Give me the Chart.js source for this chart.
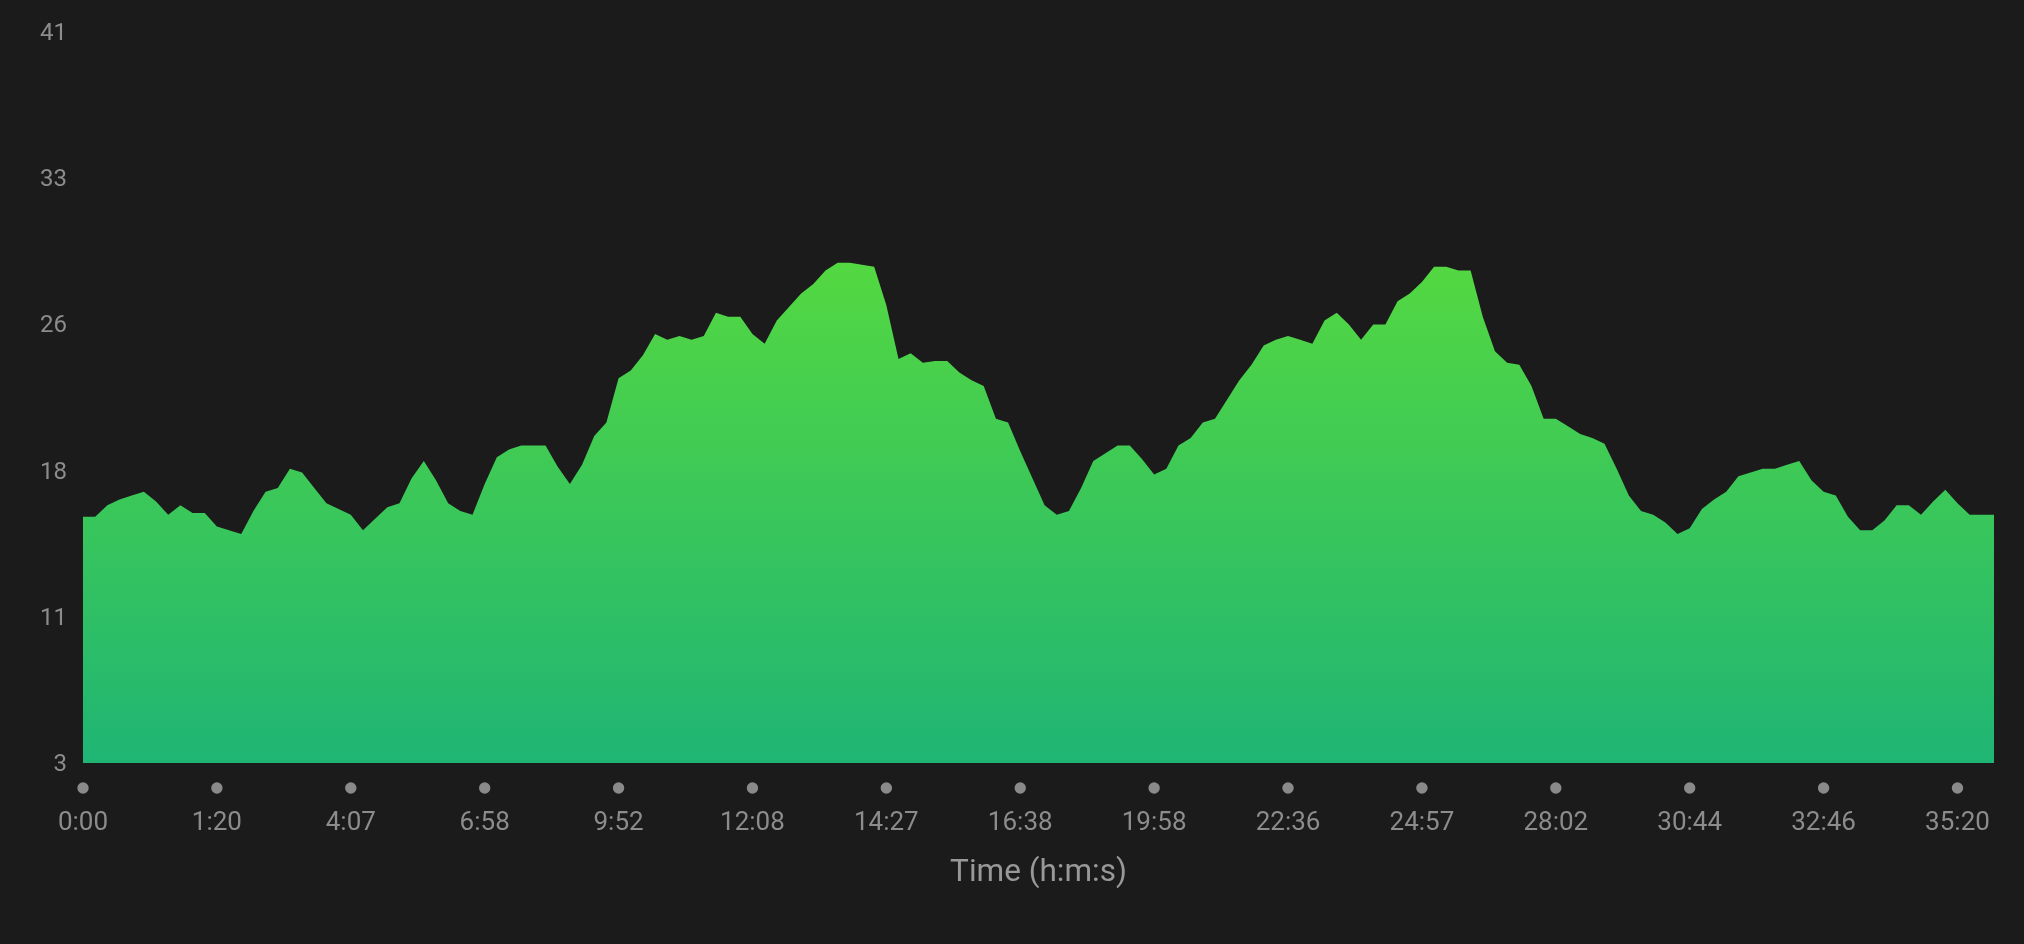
<!DOCTYPE html>
<html>
<head>
<meta charset="utf-8">
<script src="https://cdn.jsdelivr.net/npm/chart.js@4/dist/chart.umd.min.js"></script>
<style>
  html, body { margin: 0; padding: 0; background: #1b1b1b; }
  #wrap { width: 2024px; height: 944px; }
</style>
</head>
<body>
<div id="wrap"><canvas id="c" width="2024" height="944"></canvas></div>
<script>
// Tick labels shown on the time axis (one every 11 samples)
const timeTickLabels = ["0:00", "1:20", "4:07", "6:58", "9:52", "12:08", "14:27", "16:38",
  "19:58", "22:36", "24:57", "28:02", "30:44", "32:46", "35:20"];
const samplesPerTick = 11;

// Series values (158 samples)
const values = [
  15.8, 15.8, 16.4, 16.7, 16.9, 17.1, 16.6, 15.9, 16.4, 16.0,
  16.0, 15.3, 15.1, 14.9, 16.1, 17.1, 17.3, 18.3, 18.1, 17.3,
  16.5, 16.2, 15.9, 15.1, 15.7, 16.3, 16.5, 17.8, 18.7, 17.7,
  16.5, 16.1, 15.9, 17.5, 18.9, 19.3, 19.5, 19.5, 19.5, 18.4,
  17.5, 18.5, 20.0, 20.7, 23.0, 23.4, 24.2, 25.3, 25.0, 25.2,
  25.0, 25.2, 26.4, 26.2, 26.2, 25.3, 24.8, 26.0, 26.7, 27.4,
  27.9, 28.6, 29.0, 29.0, 28.9, 28.8, 26.8, 24.0, 24.3, 23.8,
  23.9, 23.9, 23.3, 22.9, 22.6, 20.9, 20.7, 19.2, 17.8, 16.4,
  15.9, 16.1, 17.3, 18.7, 19.1, 19.5, 19.5, 18.8, 18.0, 18.3,
  19.5, 19.9, 20.7, 20.9, 21.9, 22.9, 23.7, 24.7, 25.0, 25.2,
  25.0, 24.8, 26.0, 26.4, 25.8, 25.0, 25.8, 25.8, 27.0, 27.4,
  28.0, 28.8, 28.8, 28.6, 28.6, 26.2, 24.4, 23.8, 23.7, 22.6,
  20.9, 20.9, 20.5, 20.1, 19.9, 19.6, 18.3, 16.9, 16.1, 15.9,
  15.5, 14.9, 15.2, 16.2, 16.7, 17.1, 17.9, 18.1, 18.3, 18.3,
  18.5, 18.7, 17.7, 17.1, 16.9, 15.8, 15.1, 15.1, 15.6, 16.4,
  16.4, 15.9, 16.6, 17.2, 16.5, 15.9, 15.9, 15.9
];

// Y axis tick values
const yTickValues = [3, 10.6, 18.2, 25.8, 33.4, 41];

// Build the category labels from the tick labels
const categories = values.map((v, i) =>
  (i % samplesPerTick === 0 && timeTickLabels[i / samplesPerTick] !== undefined)
    ? timeTickLabels[i / samplesPerTick] : '');

const tickColor = '#8c8c8c';

const tickDots = {
  id: 'tickDots',
  afterDraw(chart) {
    const xs = chart.scales.x;
    const ctx = chart.ctx;
    ctx.save();
    ctx.fillStyle = '#8a8a8a';
    xs.ticks.forEach((t, i) => {
      if (!categories[t.value]) return;
      const px = xs.getPixelForTick(i);
      ctx.beginPath();
      ctx.arc(px, xs.top + 25, 5.7, 0, Math.PI * 2);
      ctx.fill();
    });
    ctx.restore();
  }
};

new Chart(document.getElementById('c'), {
  type: 'line',
  data: {
    labels: categories,
    datasets: [{
      data: values,
      fill: 'start',
      borderWidth: 0,
      pointRadius: 0,
      tension: 0,
      backgroundColor(ctx) {
        const area = ctx.chart.chartArea;
        if (!area) return '#3cc65a';
        const g = ctx.chart.ctx.createLinearGradient(0, area.top, 0, area.bottom);
        g.addColorStop(0, 'rgb(108,232,42)');
        g.addColorStop(1, 'rgb(31,181,116)');
        return g;
      }
    }]
  },
  options: {
    responsive: false,
    animation: false,
    layout: { padding: { top: 32, right: 30, bottom: 0, left: 0 } },
    plugins: { legend: { display: false }, tooltip: { enabled: false } },
    scales: {
      x: {
        grid: { display: false, drawTicks: false },
        border: { display: false },
        afterFit(scale) {
          scale.height = 181;
          scale.paddingRight = 0;
          scale.paddingLeft = 0;
        },
        ticks: {
          autoSkip: false,
          maxRotation: 0,
          minRotation: 0,
          padding: 45,
          color: tickColor,
          font: { family: 'Roboto', size: 26 },
          callback(value) { return categories[value] ? categories[value] : null; }
        },
        title: {
          display: true,
          text: 'Time (h:m:s)',
          color: '#989898',
          font: { family: 'Roboto', size: 31.5 },
          padding: { top: 0, bottom: 52 }
        }
      },
      y: {
        min: 3,
        max: 41,
        grid: { display: false, drawTicks: false },
        border: { display: false },
        afterFit(scale) { scale.width = 83; },
        afterBuildTicks(scale) { scale.ticks = yTickValues.map(v => ({ value: v })); },
        ticks: {
          padding: 16,
          labelOffset: 2,
          color: tickColor,
          font: { family: 'Roboto', size: 24 },
          callback(value) { return String(Math.round(value)); }
        }
      }
    }
  },
  plugins: [tickDots]
});
</script>
</body>
</html>
